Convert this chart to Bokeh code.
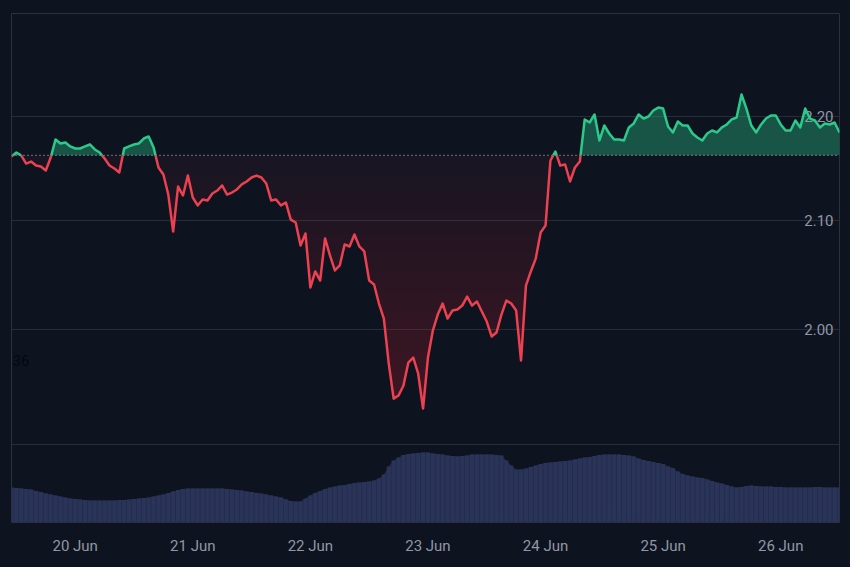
import numpy as np
import pandas as pd
from bokeh.plotting import figure
from bokeh.models import Range1d, FixedTicker, Label, LinearScale
from bokeh.core.properties import value
from bokeh.embed import file_html
from bokeh.resources import INLINE

# ---------------- data ----------------
START = "2025-06-19 11:00"
PRICE = [
    2.1609, 2.1647, 2.1618, 2.1541, 2.1560, 2.1522, 2.1512, 2.1474, 2.1599, 2.1774,
    2.1735, 2.1745, 2.1706, 2.1686, 2.1686, 2.1706, 2.1725, 2.1677, 2.1647, 2.1589,
    2.1522, 2.1493, 2.1455, 2.1686, 2.1706, 2.1725, 2.1735, 2.1783, 2.1803, 2.1696,
    2.1503, 2.1436, 2.1245, 2.0897, 2.1321, 2.1236, 2.1426, 2.1217, 2.1142, 2.1198,
    2.1189, 2.1255, 2.1283, 2.1331, 2.1245, 2.1264, 2.1293, 2.1341, 2.1369, 2.1407,
    2.1426, 2.1407, 2.1350, 2.1189, 2.1198, 2.1142, 2.1170, 2.1009, 2.0981, 2.0767,
    2.0879, 2.0381, 2.0528, 2.0445, 2.0833, 2.0675, 2.0537, 2.0583, 2.0777, 2.0758,
    2.0870, 2.0758, 2.0712, 2.0445, 2.0409, 2.0236, 2.0101, 1.9701, 1.9395, 1.9422,
    1.9509, 1.9710, 1.9754, 1.9614, 1.9309, 1.9754, 1.9994, 2.0137, 2.0236, 2.0101,
    2.0173, 2.0182, 2.0218, 2.0299, 2.0218, 2.0254, 2.0164, 2.0074, 1.9941, 1.9976,
    2.0137, 2.0263, 2.0236, 2.0173, 1.9728, 2.0399, 2.0528, 2.0646, 2.0888, 2.0953,
    2.1570, 2.1657, 2.1522, 2.1532, 2.1369, 2.1503, 2.1560, 2.1969, 2.1939, 2.2018,
    2.1764, 2.1910, 2.1832, 2.1774, 2.1774, 2.1764, 2.1891, 2.1930, 2.2018, 2.1978,
    2.1998, 2.2057, 2.2086, 2.2076, 2.1900, 2.1842, 2.1949, 2.1910, 2.1910, 2.1832,
    2.1793, 2.1764, 2.1832, 2.1861, 2.1842, 2.1891, 2.1920, 2.1969, 2.1988, 2.2216,
    2.2076, 2.1910, 2.1842, 2.1920, 2.1978, 2.2008, 2.2008, 2.1920, 2.1861, 2.1861,
    2.1959, 2.1891, 2.2076, 2.1978, 2.1959, 2.1891, 2.1930, 2.1920, 2.1939, 2.1842,
]
VOLUME = [
    3.50, 3.45, 3.40, 3.35, 3.30, 3.15, 3.05, 2.90, 2.80, 2.70,
    2.60, 2.50, 2.40, 2.35, 2.30, 2.25, 2.20, 2.20, 2.20, 2.20,
    2.20, 2.20, 2.25, 2.25, 2.30, 2.35, 2.40, 2.45, 2.50, 2.60,
    2.70, 2.80, 2.95, 3.10, 3.25, 3.35, 3.40, 3.40, 3.40, 3.40,
    3.40, 3.40, 3.40, 3.40, 3.35, 3.30, 3.25, 3.20, 3.10, 3.05,
    2.95, 2.90, 2.80, 2.70, 2.60, 2.50, 2.30, 2.15, 2.10, 2.10,
    2.40, 2.70, 2.95, 3.15, 3.35, 3.50, 3.60, 3.70, 3.75, 3.85,
    3.95, 4.00, 4.05, 4.10, 4.20, 4.40, 4.80, 5.60, 6.20, 6.50,
    6.75, 6.85, 6.90, 6.95, 7.00, 7.00, 6.90, 6.85, 6.80, 6.70,
    6.65, 6.60, 6.65, 6.70, 6.80, 6.80, 6.80, 6.80, 6.80, 6.75,
    6.70, 6.20, 5.70, 5.30, 5.30, 5.40, 5.55, 5.70, 5.85, 5.95,
    6.00, 6.05, 6.10, 6.15, 6.20, 6.30, 6.40, 6.50, 6.55, 6.65,
    6.75, 6.80, 6.80, 6.80, 6.80, 6.75, 6.70, 6.60, 6.40, 6.25,
    6.15, 6.05, 5.95, 5.85, 5.60, 5.45, 5.10, 4.85, 4.70, 4.60,
    4.50, 4.45, 4.30, 4.15, 4.00, 3.90, 3.75, 3.60, 3.50, 3.55,
    3.65, 3.70, 3.65, 3.60, 3.60, 3.60, 3.55, 3.55, 3.50, 3.50,
    3.50, 3.50, 3.50, 3.50, 3.55, 3.55, 3.50, 3.50, 3.50, 3.50,
]
BASE = 2.162
Y_TICKS = [1.90, 2.00, 2.10, 2.20]
Y_LABEL_VALUES = [2.00, 2.10, 2.20]
Y_LABELS = ["2.00", "2.10", "2.20"]
X_TICK_DATES = ["2025-06-20", "2025-06-21", "2025-06-22", "2025-06-23",
                "2025-06-24", "2025-06-25", "2025-06-26"]
X_TICK_LABELS = ["20 Jun", "21 Jun", "22 Jun", "23 Jun", "24 Jun", "25 Jun", "26 Jun"]
Y_RANGE = (1.8352, 2.3033)
VOL_RANGE = (0, 50.9)

# ---------------- styling ----------------
BG = "#0e1320"
GRID = "#262c38"
GREEN = "#2bc98a"
RED = "#eb4151"
TXT = "#9197a4"
FONT = "Roboto"

times = pd.date_range(START, periods=len(PRICE), freq="h")
t_ms = (times - pd.Timestamp("1970-01-01")) // pd.Timedelta("1ms")
t_ms = np.asarray(t_ms, dtype=float)
pr = np.asarray(PRICE, dtype=float)
vol = np.asarray(VOLUME, dtype=float)
hour_ms = 3600 * 1000.0

p = figure(width=842, height=559, x_axis_type="datetime", y_axis_type="log",
           y_axis_location=None,
           x_range=Range1d(t_ms[0], t_ms[-1]), y_range=Range1d(*Y_RANGE),
           output_backend="svg", toolbar_location=None,
           background_fill_color=BG, border_fill_color=BG,
           min_border_left=11, min_border_right=3, min_border_top=13, min_border_bottom=37,
           outline_line_color="#2b323e", outline_line_width=1)
p.extra_y_ranges = {"vol": Range1d(*VOL_RANGE)}
p.extra_y_scales = {"vol": LinearScale()}

p.xgrid.visible = False
p.ygrid.ticker = FixedTicker(ticks=Y_TICKS)
p.ygrid.grid_line_color = GRID
p.ygrid.grid_line_width = 1

tick_ms = [float(pd.Timestamp(d).value // 10**6) for d in X_TICK_DATES]
xa = p.xaxis[0]
xa.ticker = FixedTicker(ticks=tick_ms)
xa.major_label_overrides = {t: l for t, l in zip(tick_ms, X_TICK_LABELS)}
xa.axis_line_color = None
xa.major_tick_line_color = None
xa.minor_tick_line_color = None
xa.major_tick_out = 0
xa.major_tick_in = 0
xa.major_label_standoff = 14
xa.major_label_text_color = TXT
xa.major_label_text_font = FONT
xa.major_label_text_font_size = "15px"

# volume
p.varea(x=t_ms, y1=0, y2=vol, fill_color="#232b4b", y_range_name="vol")
p.vbar(x=t_ms, top=vol, bottom=0, width=hour_ms * 0.85, fill_color="#2a3358",
       line_color=None, y_range_name="vol")

# price-axis labels (drawn under the series, as in the reference)
p.text(x=[t_ms[-1]] * len(Y_LABELS), y=Y_LABEL_VALUES, text=Y_LABELS,
       text_align="right", text_baseline="middle", x_offset=-6,
       text_color=TXT, text_font=value(FONT), text_font_size="15px")

# insert baseline crossings so colours split exactly at the base value
xs = [t_ms[0]]
ys = [pr[0]]
for i in range(len(pr) - 1):
    a, b = pr[i] - BASE, pr[i + 1] - BASE
    if a * b < 0:
        f = a / (a - b)
        xs.append(t_ms[i] + f * (t_ms[i + 1] - t_ms[i]))
        ys.append(BASE)
    xs.append(t_ms[i + 1])
    ys.append(pr[i + 1])
xs = np.asarray(xs)
ys = np.asarray(ys)

# green fill above base
p.varea(x=xs, y1=BASE, y2=np.maximum(ys, BASE), fill_color=GREEN, fill_alpha=0.36)

# red fill below base, gradient stronger with depth
p.varea(x=xs, y1=BASE, y2=np.minimum(ys, BASE), fill_color=RED, fill_alpha=0.05)
N = 12
levels = np.exp(np.linspace(np.log(BASE), np.log(pr.min()), N + 2))[1:-1]
for L in levels:
    p.varea(x=xs, y1=L, y2=np.minimum(ys, L), fill_color=RED, fill_alpha=0.017)

# dotted base line
p.line(x=[t_ms[0], t_ms[-1]], y=[BASE, BASE], line_color="#a3a8b2",
       line_dash="1 3", line_width=1.2)

eps = 1e-9
up = np.where(ys >= BASE - eps, ys, np.nan)
dn = np.where(ys <= BASE + eps, ys, np.nan)
p.line(x=xs, y=dn, line_color=RED, line_width=2.5, line_join="round")
p.line(x=xs, y=up, line_color=GREEN, line_width=2.5, line_join="round")

p.add_layout(Label(x=t_ms[0], y=1.9725, x_offset=1, text="36", text_baseline="middle",
                   text_color="#05080d", text_font=FONT, text_font_size="15px"))

html = file_html(p, INLINE)
html = html.replace("</head>", "<style>html,body{background:%s;}</style></head>" % BG, 1)
open("out.html", "w").write(html)
